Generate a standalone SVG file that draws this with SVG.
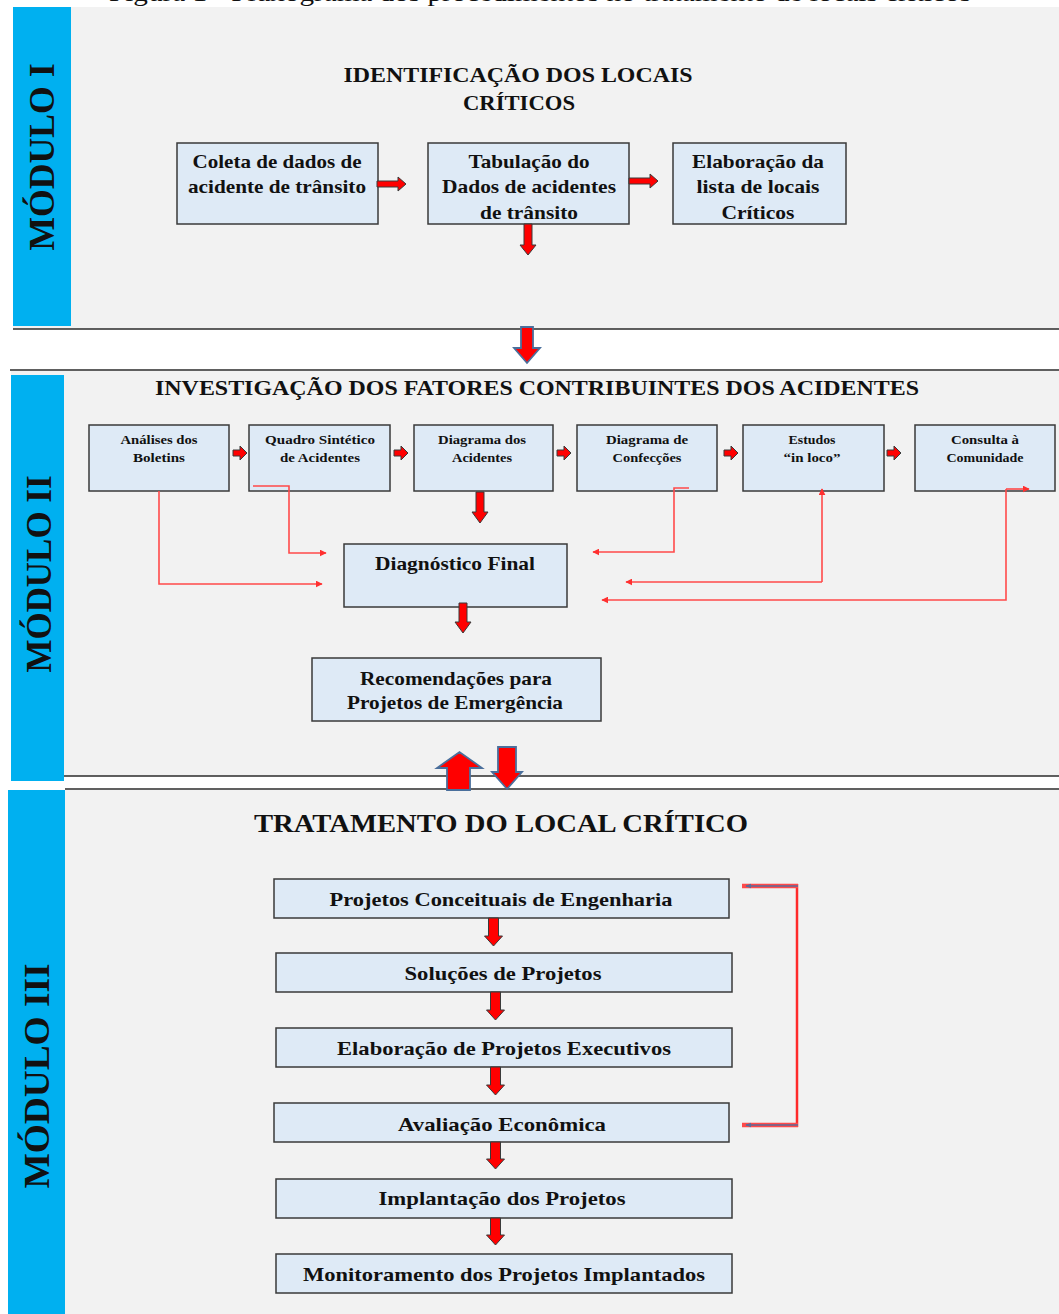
<svg xmlns="http://www.w3.org/2000/svg" width="1059" height="1314" viewBox="0 0 1059 1314">
  <style>
    .panel { fill: #F2F2F2; }
    .band { fill: #00B0F0; }
    .rule { stroke: #2B2B2B; stroke-width: 1.5; fill: none; }
    .box { fill: #DEEAF6; stroke: #3A3A3A; stroke-width: 1.5; }
    .t { font-family: "Liberation Serif", "Times New Roman", serif; font-weight: bold; fill: #111; text-anchor: middle; }
    .mod { font-family: "Liberation Serif", "Times New Roman", serif; font-weight: bold; fill: #111; font-size: 36px; text-anchor: middle; }
    .blk { fill: #FF0000; stroke: #3A3A3A; stroke-width: 1; stroke-linejoin: miter; }
    .big { fill: #FF0000; stroke: #4A6F9C; stroke-width: 1.8; stroke-linejoin: miter; }
    .link { fill: none; stroke: #FF4A4A; stroke-width: 1.6; }
  </style>
  <defs>
    <marker id="tip" viewBox="0 0 10 10" refX="9" refY="5" markerWidth="7" markerHeight="7" markerUnits="userSpaceOnUse" orient="auto">
      <path d="M0 0 L10 5 L0 10 Z" fill="#FF3030"/>
    </marker>
    <marker id="tipS" viewBox="0 0 10 10" refX="9" refY="5" markerWidth="6" markerHeight="6" markerUnits="userSpaceOnUse" orient="auto">
      <path d="M0 1 L10 5 L0 9 Z" fill="#5B6B9A"/>
    </marker>
  </defs>

  <rect width="1059" height="1314" fill="#FFFFFF"/>

  <!-- caption above the figure (runs off the top edge) -->
  <text x="540" y="0.5" class="t" style="font-weight:normal" font-size="25" textLength="862" lengthAdjust="spacingAndGlyphs">Figura 1 - Fluxograma dos procedimentos no tratamento de locais críticos</text>

  <!-- ===== Módulo I ===== -->
  <g id="modulo-1">
    <rect class="panel" x="13" y="7" width="1046" height="322"/>
    <rect class="band" x="13" y="7" width="58" height="319"/>
    <line class="rule" x1="13" y1="329" x2="1059" y2="329"/>
    <text class="mod" transform="translate(54 157) rotate(-90)" textLength="187" lengthAdjust="spacingAndGlyphs">MÓDULO I</text>
    <text class="t" x="518" y="82" font-size="20" textLength="349" lengthAdjust="spacingAndGlyphs">IDENTIFICAÇÃO  DOS LOCAIS</text>
    <text class="t" x="519" y="110" font-size="20" textLength="112" lengthAdjust="spacingAndGlyphs">CRÍTICOS</text>
  </g>

  <g id="coleta">
    <rect class="box" x="177" y="143" width="201" height="81"/>
    <text class="t" x="277" y="168" font-size="19" textLength="169" lengthAdjust="spacingAndGlyphs">Coleta de dados de</text>
    <text class="t" x="277" y="193" font-size="19" textLength="178" lengthAdjust="spacingAndGlyphs">acidente de trânsito</text>
  </g>
  <g id="tabulacao">
    <rect class="box" x="428" y="143" width="201" height="81"/>
    <text class="t" x="529" y="168" font-size="19" textLength="121" lengthAdjust="spacingAndGlyphs">Tabulação do</text>
    <text class="t" x="529" y="193" font-size="19" textLength="174" lengthAdjust="spacingAndGlyphs">Dados de acidentes</text>
    <text class="t" x="529" y="219" font-size="19" textLength="98" lengthAdjust="spacingAndGlyphs">de trânsito</text>
  </g>
  <g id="elaboracao-lista">
    <rect class="box" x="673" y="143" width="173" height="81"/>
    <text class="t" x="758" y="168" font-size="19" textLength="132" lengthAdjust="spacingAndGlyphs">Elaboração da</text>
    <text class="t" x="758" y="193" font-size="19" textLength="123" lengthAdjust="spacingAndGlyphs">lista de locais</text>
    <text class="t" x="758" y="219" font-size="19" textLength="73" lengthAdjust="spacingAndGlyphs">Críticos</text>
  </g>

  <!-- ===== Módulo II ===== -->
  <g id="modulo-2">
    <rect class="panel" x="11" y="371" width="1048" height="405"/>
    <rect class="band" x="11" y="375" width="53" height="406"/>
    <line class="rule" x1="10" y1="370" x2="1059" y2="370"/>
    <line class="rule" x1="64" y1="776" x2="1059" y2="776"/>
    <text class="mod" transform="translate(51 574) rotate(-90)" textLength="197" lengthAdjust="spacingAndGlyphs">MÓDULO II</text>
    <text class="t" x="537" y="395" font-size="22" textLength="764" lengthAdjust="spacingAndGlyphs">INVESTIGAÇÃO  DOS FATORES  CONTRIBUINTES  DOS ACIDENTES</text>
  </g>

  <g id="analises">
    <rect class="box" x="89" y="425" width="140" height="66"/>
    <text class="t" x="159" y="444" font-size="13" textLength="77" lengthAdjust="spacingAndGlyphs">Análises dos</text>
    <text class="t" x="159" y="462" font-size="13" textLength="52" lengthAdjust="spacingAndGlyphs">Boletins</text>
  </g>
  <g id="quadro">
    <rect class="box" x="249" y="425" width="141" height="66"/>
    <text class="t" x="320" y="444" font-size="13" textLength="110" lengthAdjust="spacingAndGlyphs">Quadro  Sintético</text>
    <text class="t" x="320" y="462" font-size="13" textLength="80" lengthAdjust="spacingAndGlyphs">de  Acidentes</text>
  </g>
  <g id="diagrama-acidentes">
    <rect class="box" x="414" y="425" width="139" height="66"/>
    <text class="t" x="482" y="444" font-size="13" textLength="88" lengthAdjust="spacingAndGlyphs">Diagrama  dos</text>
    <text class="t" x="482" y="462" font-size="13" textLength="60" lengthAdjust="spacingAndGlyphs">Acidentes</text>
  </g>
  <g id="diagrama-confeccoes">
    <rect class="box" x="577" y="425" width="140" height="66"/>
    <text class="t" x="647" y="444" font-size="13" textLength="82" lengthAdjust="spacingAndGlyphs">Diagrama  de</text>
    <text class="t" x="647" y="462" font-size="13" textLength="69" lengthAdjust="spacingAndGlyphs">Confecções</text>
  </g>
  <g id="estudos">
    <rect class="box" x="743" y="425" width="141" height="66"/>
    <text class="t" x="812" y="444" font-size="13" textLength="47" lengthAdjust="spacingAndGlyphs">Estudos</text>
    <text class="t" x="812" y="462" font-size="13" textLength="57" lengthAdjust="spacingAndGlyphs">“in loco”</text>
  </g>
  <g id="consulta">
    <rect class="box" x="915" y="425" width="140" height="66"/>
    <text class="t" x="985" y="444" font-size="13" textLength="68" lengthAdjust="spacingAndGlyphs">Consulta à</text>
    <text class="t" x="985" y="462" font-size="13" textLength="77" lengthAdjust="spacingAndGlyphs">Comunidade</text>
  </g>
  <g id="diagnostico">
    <rect class="box" x="344" y="544" width="223" height="63"/>
    <text class="t" x="455" y="570" font-size="19" textLength="160" lengthAdjust="spacingAndGlyphs">Diagnóstico Final</text>
  </g>
  <g id="recomendacoes">
    <rect class="box" x="312" y="658" width="289" height="63"/>
    <text class="t" x="456" y="685" font-size="19" textLength="192" lengthAdjust="spacingAndGlyphs">Recomendações para</text>
    <text class="t" x="455" y="709" font-size="19" textLength="216" lengthAdjust="spacingAndGlyphs">Projetos de Emergência</text>
  </g>

  <!-- ===== Módulo III ===== -->
  <g id="modulo-3">
    <rect class="panel" x="8" y="790" width="1051" height="524"/>
    <rect class="band" x="8" y="790" width="57" height="524"/>
    <line class="rule" x1="65" y1="789" x2="1059" y2="789"/>
    <text class="mod" transform="translate(49 1076) rotate(-90)" textLength="225" lengthAdjust="spacingAndGlyphs">MÓDULO III</text>
    <text class="t" x="501" y="832" font-size="26" textLength="494" lengthAdjust="spacingAndGlyphs">TRATAMENTO  DO LOCAL CRÍTICO</text>
  </g>

  <g id="projetos-conceituais">
    <rect class="box" x="274" y="879" width="455" height="39"/>
    <text class="t" x="501" y="906" font-size="19" textLength="343" lengthAdjust="spacingAndGlyphs">Projetos Conceituais de Engenharia</text>
  </g>
  <g id="solucoes">
    <rect class="box" x="276" y="953" width="456" height="39"/>
    <text class="t" x="503" y="980" font-size="19" textLength="197" lengthAdjust="spacingAndGlyphs">Soluções de Projetos</text>
  </g>
  <g id="projetos-executivos">
    <rect class="box" x="276" y="1028" width="456" height="39"/>
    <text class="t" x="504" y="1055" font-size="19" textLength="334" lengthAdjust="spacingAndGlyphs">Elaboração de Projetos Executivos</text>
  </g>
  <g id="avaliacao">
    <rect class="box" x="274" y="1103" width="455" height="39"/>
    <text class="t" x="502" y="1131" font-size="19" textLength="208" lengthAdjust="spacingAndGlyphs">Avaliação Econômica</text>
  </g>
  <g id="implantacao">
    <rect class="box" x="276" y="1179" width="456" height="39"/>
    <text class="t" x="502" y="1205" font-size="19" textLength="247" lengthAdjust="spacingAndGlyphs">Implantação dos Projetos</text>
  </g>
  <g id="monitoramento">
    <rect class="box" x="276" y="1254" width="456" height="39"/>
    <text class="t" x="504" y="1281" font-size="19" textLength="402" lengthAdjust="spacingAndGlyphs">Monitoramento dos Projetos Implantados</text>
  </g>

  <!-- ===== connectors ===== -->
  <g id="connectors">
    <!-- Módulo I flow -->
    <path class="blk" d="M377 181 H398 V177 L406 184 L398 191 V187 H377 Z"/>
    <path class="blk" d="M629 178 H650 V174 L658 181 L650 188 V184 H629 Z"/>
    <path class="blk" d="M524 224 H532 V245 H536 L528 255 L520 245 H524 Z"/>
    <!-- Módulo I to Módulo II -->
    <path class="big" d="M521 327 H533 V348 H540 L527 363 L514 348 H521 Z"/>

    <!-- Módulo II row -->
    <path class="blk" d="M233 450 H240 V446 L247 453 L240 460 V456 H233 Z"/>
    <path class="blk" d="M394 450 H401 V446 L408 453 L401 460 V456 H394 Z"/>
    <path class="blk" d="M557 450 H564 V446 L571 453 L564 460 V456 H557 Z"/>
    <path class="blk" d="M724 450 H731 V446 L738 453 L731 460 V456 H724 Z"/>
    <path class="blk" d="M887 450 H894 V446 L901 453 L894 460 V456 H887 Z"/>
    <path class="blk" d="M476 492 H484 V512 H488 L480 523 L472 512 H476 Z"/>
    <path class="blk" d="M459 603 H467 V622 H471 L463 633 L455 622 H459 Z"/>

    <!-- feedback lines into Diagnóstico Final -->
    <polyline class="link" points="159,491 159,584 322,584" marker-end="url(#tip)"/>
    <polyline class="link" points="253,486 289,486 289,553 326,553" marker-end="url(#tip)"/>
    <polyline class="link" points="689,488 674,488 674,552 593,552" marker-end="url(#tip)"/>
    <polyline class="link" points="822,582 822,489" marker-end="url(#tip)"/>
    <polyline class="link" points="822,582 626,582" marker-end="url(#tip)"/>
    <polyline class="link" points="1006,489 1029,489" marker-end="url(#tip)"/>
    <polyline class="link" points="1006,489 1006,600 602,600" marker-end="url(#tip)"/>

    <!-- Módulo II and Módulo III exchange -->
    <path class="big" d="M447 790 V768 H437 L459.5 752 L482 768 H470 V790 Z"/>
    <path class="big" d="M498 747 H516 V772 H522 L507 789 L492 772 H498 Z"/>

    <!-- Módulo III sequence -->
    <path class="blk" d="M488.5 918 H498.5 V936 H502.5 L493.5 946 L484.5 936 H488.5 Z"/>
    <path class="blk" d="M490.5 992 H500.5 V1010 H504.5 L495.5 1020 L486.5 1010 H490.5 Z"/>
    <path class="blk" d="M490.5 1067 H500.5 V1085 H504.5 L495.5 1095 L486.5 1085 H490.5 Z"/>
    <path class="blk" d="M490.5 1142 H500.5 V1159 H504.5 L495.5 1169 L486.5 1159 H490.5 Z"/>
    <path class="blk" d="M490.5 1218 H500.5 V1235 H504.5 L495.5 1245 L486.5 1235 H490.5 Z"/>

    <!-- return loop from Avaliação Econômica to Projetos Conceituais -->
    <line x1="797" y1="884" x2="797" y2="1127" stroke="#FF2A2A" stroke-width="2.5"/>
    <line x1="742" y1="886" x2="798" y2="886" stroke="#FF4A4A" stroke-width="4.5"/>
    <line x1="742" y1="1125" x2="798" y2="1125" stroke="#FF4A4A" stroke-width="4.5"/>
    <line x1="798" y1="886" x2="746" y2="886" stroke="#5B6B9A" stroke-width="1.6" marker-end="url(#tipS)"/>
    <line x1="798" y1="1125" x2="746" y2="1125" stroke="#5B6B9A" stroke-width="1.6" marker-end="url(#tipS)"/>
  </g>
</svg>
